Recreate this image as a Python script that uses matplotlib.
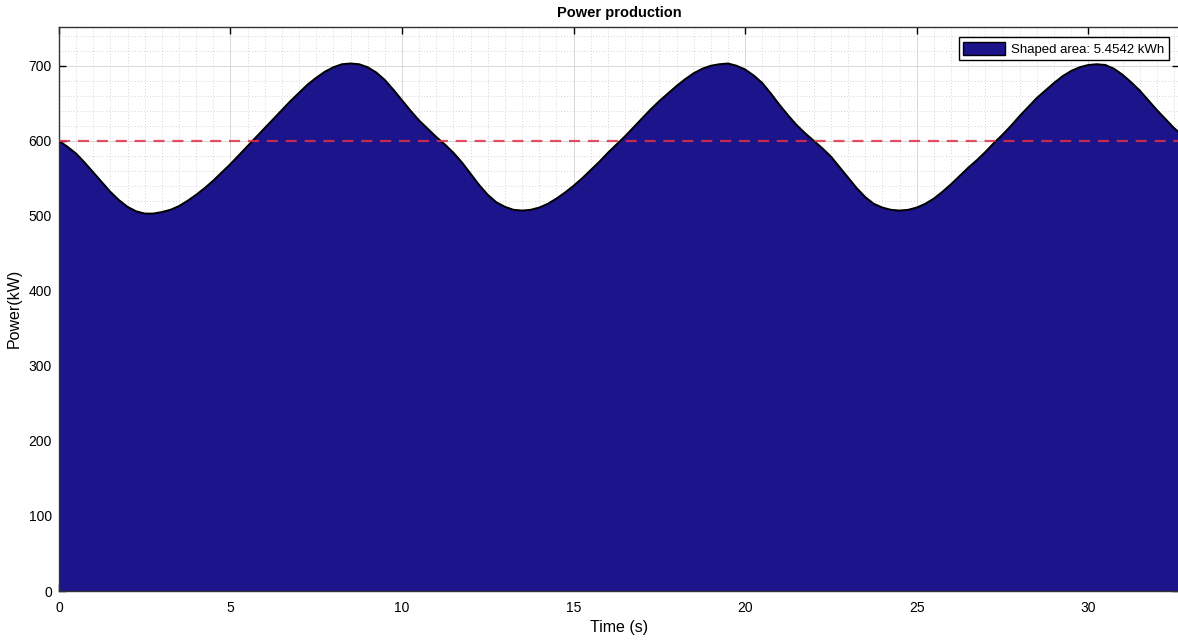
import numpy as np
import matplotlib.pyplot as plt
from matplotlib.ticker import MultipleLocator

plt.rcParams['font.family'] = ['Liberation Sans', 'DejaVu Sans']

# Time axis (s) and produced power (kW)
time_s = [0.0, 0.25, 0.5, 0.75, 1.0, 1.25, 1.5, 1.75, 2.0, 2.25,
          2.5, 2.75, 3.0, 3.25, 3.5, 3.75, 4.0, 4.25, 4.5, 4.75,
          5.0, 5.25, 5.5, 5.75, 6.0, 6.25, 6.5, 6.75, 7.0, 7.25,
          7.5, 7.75, 8.0, 8.25, 8.5, 8.75, 9.0, 9.25, 9.5, 9.75,
          10.0, 10.25, 10.5, 10.75, 11.0, 11.25, 11.5, 11.75, 12.0, 12.25,
          12.5, 12.75, 13.0, 13.25, 13.5, 13.75, 14.0, 14.25, 14.5, 14.75,
          15.0, 15.25, 15.5, 15.75, 16.0, 16.25, 16.5, 16.75, 17.0, 17.25,
          17.5, 17.75, 18.0, 18.25, 18.5, 18.75, 19.0, 19.25, 19.5, 19.75,
          20.0, 20.25, 20.5, 20.75, 21.0, 21.25, 21.5, 21.75, 22.0, 22.25,
          22.5, 22.75, 23.0, 23.25, 23.5, 23.75, 24.0, 24.25, 24.5, 24.75,
          25.0, 25.25, 25.5, 25.75, 26.0, 26.25, 26.5, 26.75, 27.0, 27.25,
          27.5, 27.75, 28.0, 28.25, 28.5, 28.75, 29.0, 29.25, 29.5, 29.75,
          30.0, 30.25, 30.5, 30.75, 31.0, 31.25, 31.5, 31.75, 32.0, 32.25,
          32.5, 32.65]
power_kw = [600, 592, 583, 571, 558, 545, 532, 521, 512, 506,
            503, 503, 505, 508, 513, 520, 528, 537, 547, 558,
            569, 581, 593, 605, 617, 629, 641, 653, 664, 675,
            684, 692, 698, 702, 703, 702, 698, 691, 681, 668,
            654, 640, 627, 616, 605, 595, 584, 571, 556, 541,
            528, 518, 512, 508, 507, 508, 511, 516, 523, 531,
            540, 550, 561, 572, 584, 595, 606, 618, 630, 642,
            653, 663, 673, 682, 690, 696, 700, 702, 703, 700,
            695, 687, 677, 663, 648, 634, 621, 610, 600, 590,
            579, 565, 551, 537, 525, 516, 511, 508, 507, 508,
            511, 516, 523, 532, 542, 553, 564, 574, 585, 597,
            608, 620, 633, 645, 657, 667, 677, 686, 693, 698,
            701, 702, 701, 696, 688, 678, 667, 654, 641, 629,
            617, 611]
threshold_kw = 600
energy_label = 'Shaped area: 5.4542 kWh'

t = np.array(time_s)
p = np.array(power_kw)

fig = plt.figure(figsize=(11.78, 6.42), dpi=100)
ax = fig.add_axes([0.050, 0.0794, 0.951, 0.879])

ax.fill_between(t, 0, p, facecolor='#1b148b', edgecolor='none',
                label=energy_label, zorder=2)
ax.plot(t, p, color='black', lw=1.4, zorder=3)
ax.axhline(threshold_kw, color='#e0304a', lw=1.6, ls=(0, (5, 3.5)),
           alpha=0.85, zorder=4)

ax.set_xlim(0, 32.65)
ax.set_ylim(0, 752)
ax.xaxis.set_major_locator(MultipleLocator(5))
ax.xaxis.set_minor_locator(MultipleLocator(0.5))
ax.yaxis.set_major_locator(MultipleLocator(100))
ax.yaxis.set_minor_locator(MultipleLocator(20))

ax.grid(True, which='major', color='#d8d8d8', lw=0.7, zorder=0)
ax.grid(True, which='minor', color='#c8c8c8', lw=0.6, ls=(0, (1, 2.5)), zorder=0)
ax.set_axisbelow(True)

ax.tick_params(which='major', direction='in', length=5, width=1,
               top=True, right=True, labelsize=10)
ax.tick_params(axis='x', which='major', pad=7)
ax.tick_params(axis='y', which='major', pad=5)
ax.tick_params(which='minor', length=0)
for s in ax.spines.values():
    s.set_color('#333333')
    s.set_linewidth(1.0)

ax.set_title('Power production', fontsize=10.5, fontweight='bold', pad=7)
ax.set_xlabel('Time (s)', fontsize=11.5, labelpad=4)
ax.set_ylabel('Power(kW)', fontsize=11.5, labelpad=5)

leg = ax.legend(loc='upper right', fontsize=9.5, frameon=True, fancybox=False,
                handlelength=3.2, handleheight=1.1, borderpad=0.35,
                handletextpad=0.4, borderaxespad=0.8)
leg.get_frame().set_edgecolor('black')
leg.get_frame().set_linewidth(1.0)
leg.get_frame().set_alpha(1)
for h in leg.legend_handles:
    h.set_edgecolor('black')
    h.set_linewidth(1.0)

fig.savefig('out.png', dpi=100)
